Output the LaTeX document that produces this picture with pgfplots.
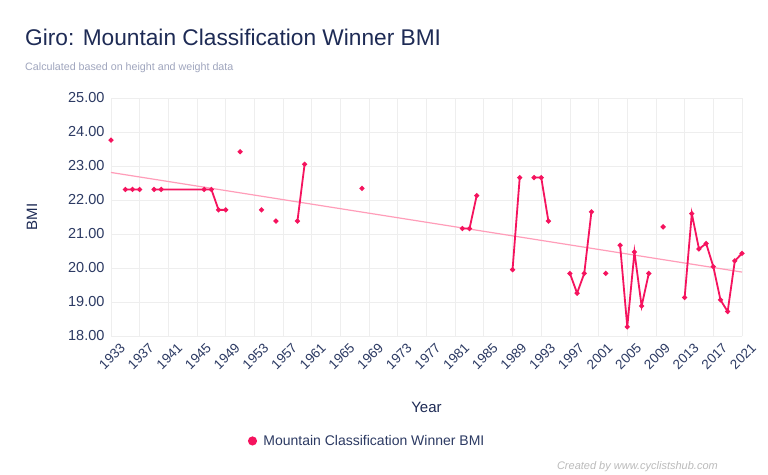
\documentclass[border=0pt]{standalone}
\usepackage{pgfplots}
\pgfplotsset{compat=1.18}
\usepackage{pgfplotstable}
\usepackage{fontspec}
\setmainfont{Liberation Sans}

\definecolor{titlenavy}{HTML}{1E2B55}
\definecolor{ticknavy}{HTML}{2C3A63}
\definecolor{subgray}{HTML}{A0A6BE}
\definecolor{creditgray}{HTML}{BBBBBB}
\definecolor{gridgray}{HTML}{EEEEEE}
\definecolor{bmipink}{HTML}{F5135E}
\definecolor{trendpink}{HTML}{FF9DB9}

% BMI of the Giro mountain classification winner; nan breaks the line
\pgfplotstableread{
year bmi
1933 23.76
1934 nan
1935 22.31
1936 22.31
1937 22.31
1938 nan
1939 22.31
1940 22.31
1946 22.31
1947 22.31
1948 21.71
1949 21.71
1950 nan
1951 23.42
1952 nan
1954 21.71
1955 nan
1956 21.38
1957 nan
1959 21.38
1960 23.05
1961 nan
1968 22.34
1969 nan
1982 21.16
1983 21.16
1984 22.13
1985 nan
1989 19.95
1990 22.66
1991 nan
1992 22.66
1993 22.66
1994 21.38
1995 nan
1997 19.84
1998 19.26
1999 19.84
2000 21.65
2001 nan
2002 19.84
2003 nan
2004 20.67
2005 18.27
2006 20.47
2007 18.88
2008 19.84
2009 nan
2010 21.21
2011 nan
2013 19.13
2014 21.60
2015 20.56
2016 20.72
2017 20.04
2018 19.06
2019 18.72
2020 20.21
2021 20.43
}\bmidata

\begin{document}
\begin{tikzpicture}[x=1pt,y=1pt]
\path[use as bounding box, fill=white] (0,0) rectangle (768,474);

\node[anchor=base west, text=titlenavy, inner sep=0pt]
  at (25,428) {\fontsize{22.7}{27}\selectfont Giro: Mountain Classification Winner BMI};
\node[anchor=base west, text=subgray, inner sep=0pt]
  at (25,403) {\fontsize{10.7}{13}\selectfont Calculated based on height and weight data};
\node[anchor=base east, text=creditgray, inner sep=0pt]
  at (718,5) {\fontsize{11}{13}\selectfont\itshape Created by www.cyclistshub.com};

\begin{axis}[
  at={(111pt,138pt)}, anchor=south west,
  scale only axis, width=631pt, height=238pt,
  xmin=1933, xmax=2021, ymin=18, ymax=25,
  xtick={1933,1937,...,2021}, ytick={18,...,25},
  grid=major, major grid style={draw=gridgray, line width=0.8pt},
  axis line style={draw=none}, tick style={draw=none},
  /pgf/number format/assume math mode=true,
  /pgf/number format/1000 sep={},
  yticklabel={\pgfmathprintnumber[fixed,fixed zerofill,precision=2]{\tick}},
  ticklabel style={text=ticknavy},
  y tick label style={xshift=-3pt, font=\fontsize{14.5}{17}\selectfont},
  x tick label style={rotate=45, anchor=east, xshift=5pt, yshift=-15pt,
    font=\fontsize{13.5}{16}\selectfont},
  xlabel={Year}, ylabel={BMI},
  every axis x label/.style={at={(rel axis cs:0.5,0)}, yshift=-71pt, anchor=center,
    text=titlenavy, font=\fontsize{15}{18}\selectfont},
  every axis y label/.style={at={(rel axis cs:0,0.5)}, xshift=-79pt, rotate=90, anchor=center,
    text=titlenavy, font=\fontsize{15}{18}\selectfont},
  unbounded coords=jump,
  legend style={at={(rel axis cs:0.406,-0.441)}, anchor=center, draw=none,
    fill=none, font=\fontsize{14}{17}\selectfont, text=ticknavy,
    legend cell align=left},
  clip=false,
]
% linear trend
\addplot[trendpink, line width=1.2pt, forget plot] coordinates {(1933,22.81) (2021,19.88)};
\addplot[bmipink, line width=1.8pt, mark=*, mark size=1.5pt,
  legend image code/.code={\fill[bmipink] (0.1em,0) circle (3.6pt);\path (0.9em,0);}]
  table[x=year, y=bmi] {\bmidata};
\addlegendentry{Mountain Classification Winner BMI}
\end{axis}
\end{tikzpicture}
\end{document}
